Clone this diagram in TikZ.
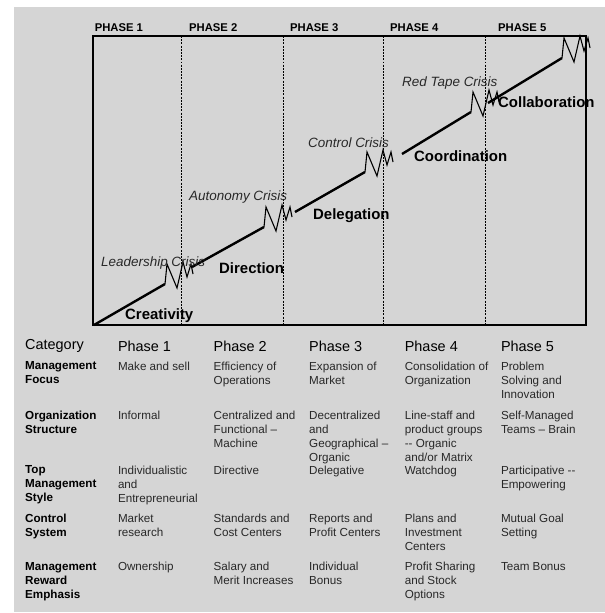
\documentclass[tikz,border=0pt]{standalone}
\usepackage{fontspec}
\setmainfont{Liberation Sans}
\definecolor{paper}{RGB}{213,213,213}
\definecolor{ink}{RGB}{40,40,40}
\tikzset{
  stair/.style={line width=2.4pt},
  wiggle/.style={line width=1.1pt},
  divider/.style={line width=0.8pt, dash pattern=on 2pt off 1.2pt},
  phaselbl/.style={anchor=west, inner sep=0, font=\bfseries\fontsize{11.3}{13}\selectfont},
  crisislbl/.style={anchor=west, inner sep=0, text=ink, font=\itshape\fontsize{13.5}{16}\selectfont},
  stagelbl/.style={anchor=west, inner sep=0, font=\bfseries\fontsize{15}{18}\selectfont},
  headlbl/.style={anchor=west, inner sep=0, font=\fontsize{14.5}{17}\selectfont},
  rowlbl/.style={anchor=north west, inner sep=0, align=left, font=\bfseries\fontsize{11.7}{14}\selectfont},
  cell/.style={anchor=north west, inner sep=0, align=left, text=ink, font=\fontsize{11.7}{14}\selectfont},
}
\newcommand{\crisis}[1]{\draw[wiggle] (#1) -- ++(2,-20) -- ++(10,24) -- ++(6,-26) -- ++(4,15) -- ++(4,-13) -- ++(2,10);}
\begin{document}
\begin{tikzpicture}[x=1bp,y=-1bp]
    \useasboundingbox (0,0) rectangle (605,613);
    \fill[white] (0,0) rectangle (605,613);
    \fill[paper] (14,7) rectangle (605,612);

    \draw[line width=1.5pt] (93,36) rectangle (586,325);
    \foreach \x in {181.5,283,383.5,485}
        \draw[divider] (\x,36) -- (\x,325);

    \node[phaselbl] at (94.6,28) {PHASE 1};
    \node[phaselbl] at (189,28) {PHASE 2};
    \node[phaselbl] at (290,28) {PHASE 3};
    \node[phaselbl] at (390,28) {PHASE 4};
    \node[phaselbl] at (498,28) {PHASE 5};

    \coordinate (s1a) at (94,325);  \coordinate (s1b) at (165,284);
    \coordinate (s2a) at (192,267); \coordinate (s2b) at (264,227);
    \coordinate (s3a) at (295,212); \coordinate (s3b) at (365,172);
    \coordinate (s4a) at (402,154); \coordinate (s4b) at (471,112);
    \coordinate (s5a) at (488,103); \coordinate (s5b) at (562,58);

    \draw[stair] (s1a) -- (s1b);
    \draw[stair] (s2a) -- (s2b);
    \draw[stair] (s3a) -- (s3b);
    \draw[stair] (s4a) -- (s4b);
    \draw[stair] (s5a) -- (s5b);
    \crisis{s1b}
    \crisis{s2b}
    \crisis{s3b}
    \crisis{s4b}
    \crisis{s5b}

    \node[crisislbl] at (101,263) {Leadership Crisis};
    \node[crisislbl] at (189,197) {Autonomy Crisis};
    \node[crisislbl] at (308,143) {Control Crisis};
    \node[crisislbl] at (402,83) {Red Tape Crisis};

    \node[stagelbl] at (125,316) {Creativity};
    \node[stagelbl] at (219,268) {Direction};
    \node[stagelbl] at (313,216) {Delegation};
    \node[stagelbl] at (414,156) {Coordination};
    \node[stagelbl] at (498,102) {Collaboration};

    \node[headlbl] at (25,346) {Category};
    \node[headlbl] at (117.8,346) {Phase 1};
    \node[headlbl] at (213.5,346) {Phase 2};
    \node[headlbl] at (309,346) {Phase 3};
    \node[headlbl] at (404.6,346) {Phase 4};
    \node[headlbl] at (500.8,346) {Phase 5};

    \node[rowlbl] at (25,361.7) {Management\\Focus};
    \node[cell] at (117.8,361.7) {Make and sell};
    \node[cell] at (213.5,361.7) {Efficiency of\\Operations};
    \node[cell] at (309,361.7) {Expansion of\\Market};
    \node[cell] at (404.6,361.7) {Consolidation of\\Organization};
    \node[cell] at (500.8,361.7) {Problem\\Solving and\\Innovation};

    \node[rowlbl] at (25,411) {Organization\\Structure};
    \node[cell] at (117.8,411) {Informal};
    \node[cell] at (213.5,411) {Centralized and\\Functional –\\Machine};
    \node[cell] at (309,411) {Decentralized\\and\\Geographical –\\Organic};
    \node[cell] at (404.6,411) {Line-staff and\\product groups\\-{}- Organic\\and/or Matrix};
    \node[cell] at (500.8,411) {Self-Managed\\Teams – Brain};

    \node[rowlbl] at (25,465.7) {Top\\Management\\Style};
    \node[cell] at (117.8,465.7) {Individualistic\\and\\Entrepreneurial};
    \node[cell] at (213.5,465.7) {Directive};
    \node[cell] at (309,465.7) {Delegative};
    \node[cell] at (404.6,465.7) {Watchdog};
    \node[cell] at (500.8,465.7) {Participative -{}-\\Empowering};

    \node[rowlbl] at (25,514.3) {Control\\System};
    \node[cell] at (117.8,514.3) {Market\\research};
    \node[cell] at (213.5,514.3) {Standards and\\Cost Centers};
    \node[cell] at (309,514.3) {Reports and\\Profit Centers};
    \node[cell] at (404.6,514.3) {Plans and\\Investment\\Centers};
    \node[cell] at (500.8,514.3) {Mutual Goal\\Setting};

    \node[rowlbl] at (25,562.3) {Management\\Reward\\Emphasis};
    \node[cell] at (117.8,562.3) {Ownership};
    \node[cell] at (213.5,562.3) {Salary and\\Merit Increases};
    \node[cell] at (309,562.3) {Individual\\Bonus};
    \node[cell] at (404.6,562.3) {Profit Sharing\\and Stock\\Options};
    \node[cell] at (500.8,562.3) {Team Bonus};
\end{tikzpicture}
\end{document}
